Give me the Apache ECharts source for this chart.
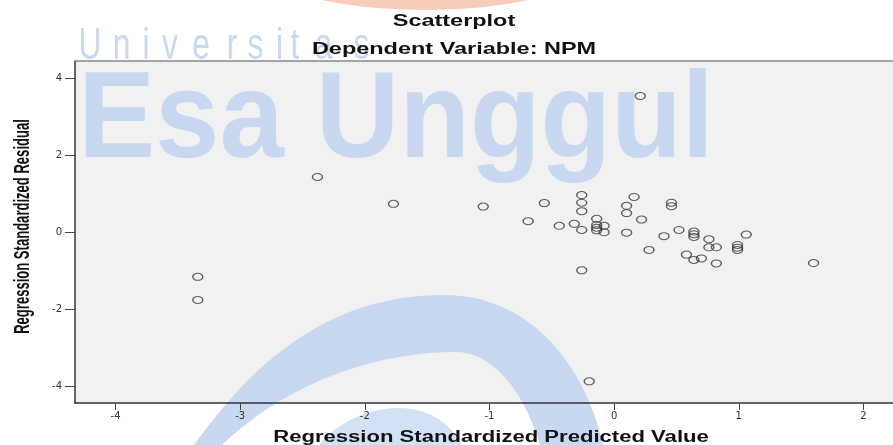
<!DOCTYPE html>
<html>
<head>
<meta charset="utf-8">
<script src="https://cdn.jsdelivr.net/npm/echarts@6/dist/echarts.min.js"></script>
<style>
html,body{margin:0;padding:0;background:#fff;}
#chart{width:893px;height:445px;}
</style>
</head>
<body>
<div id="chart"></div>
<script>
const predicted = [0.21,-2.38,-1.77,-1.05,-0.69,-0.56,-0.44,-0.32,-0.26,-0.26,-0.26,-0.26,-0.26,-0.14,-0.14,-0.14,-0.14,-0.08,-0.08,0.10,0.10,0.10,0.16,0.22,0.28,0.40,0.46,0.46,0.52,0.58,0.64,0.64,0.64,0.64,0.70,0.76,0.76,0.82,0.82,0.99,0.99,0.99,1.06,1.60,-3.34,-3.34,-0.20];
const residual  = [3.55,1.44,0.74,0.67,0.29,0.76,0.17,0.22,0.97,0.77,0.55,0.06,-0.99,0.35,0.19,0.12,0.05,0.17,0.00,0.69,0.50,-0.01,0.92,0.33,-0.46,-0.10,0.77,0.68,0.06,-0.58,0.02,-0.05,-0.12,-0.72,-0.68,-0.18,-0.39,-0.39,-0.81,-0.33,-0.40,-0.46,-0.06,-0.80,-1.16,-1.76,-3.88];
const xTickValues = [-4,-3,-2,-1,0,1,2];
const yTickValues = [-4,-2,0,2,4];
const titleText = 'Scatterplot';
const subtitleText = 'Dependent Variable: NPM';
const xName = 'Regression Standardized Predicted Value';
const yName = 'Regression Standardized Residual';

const points = predicted.map((x, i) => [x, residual[i]]);

// --- watermark decoration helpers ---
function bez(p0, p1, p2, p3, n) {
  const out = [];
  for (let i = 0; i <= n; i++) {
    const t = i / n, u = 1 - t;
    out.push([
      u*u*u*p0[0] + 3*u*u*t*p1[0] + 3*u*t*t*p2[0] + t*t*t*p3[0],
      u*u*u*p0[1] + 3*u*u*t*p1[1] + 3*u*t*t*p2[1] + t*t*t*p3[1]
    ]);
  }
  return out;
}
const crescent = [].concat(
  bez([194,445],[255,360],[330,295],[444,295],30),
  bez([444,295],[530,295],[585,365],[603,445],30),
  bez([540,445],[525,395],[495,352],[455,352],30),
  bez([455,352],[380,352],[290,380],[222,445],30)
);
const dome = [].concat(
  bez([319,445],[340,420],[370,408],[399,408],20),
  bez([399,408],[430,408],[452,425],[462,445],20)
);

const wmBlue = '#c8d8f0';
const uniLetters = 'Universitas'.split('');
const uniCenters = [90,121.5,146,170,201,232,255.5,279.5,295,323.5,361.5];

const graphics = [
  {type:'ellipse', z:1, silent:true, shape:{cx:425, cy:-60, rx:200, ry:70}, style:{fill:'#f9ccb9'}},
  {type:'polygon', z:1, silent:true, shape:{points:crescent}, style:{fill:wmBlue}},
  {type:'polygon', z:1, silent:true, shape:{points:dome}, style:{fill:'#d3e1f5'}},
  {type:'text', z:1, silent:true, x:78, y:123, scaleX:0.94,
   style:{text:'Esa Unggul', font:'bold 123px "Liberation Sans"', fill:wmBlue, align:'left', verticalAlign:'middle', textAlign:'left', textVerticalAlign:'middle'}}
];
uniLetters.forEach((ch, i) => {
  graphics.push({type:'text', z:1, silent:true, x:uniCenters[i], y:47, scaleX:0.72,
    style:{text:ch, font:'44px "Liberation Sans"', fill:wmBlue, align:'center', verticalAlign:'middle', textAlign:'center', textVerticalAlign:'middle'}});
});
graphics.push(
  {type:'text', z:4, x:454, y:21.5, scaleX:1.38,
   style:{text:titleText, font:'bold 17px "Liberation Sans"', fill:'#111', align:'center', verticalAlign:'middle', textAlign:'center', textVerticalAlign:'middle'}},
  {type:'text', z:4, x:454, y:49.5, scaleX:1.38,
   style:{text:subtitleText, font:'bold 17px "Liberation Sans"', fill:'#111', align:'center', verticalAlign:'middle', textAlign:'center', textVerticalAlign:'middle'}},
  {type:'text', z:4, x:491, y:437.5, scaleX:1.38,
   style:{text:xName, font:'bold 16px "Liberation Sans"', fill:'#111', align:'center', verticalAlign:'middle', textAlign:'center', textVerticalAlign:'middle'}},
  {type:'text', z:4, x:23, y:226.5, rotation:Math.PI/2, scaleX:0.87, scaleY:1.45,
   style:{text:yName, font:'bold 15px "Liberation Sans"', fill:'#111', align:'center', verticalAlign:'middle', textAlign:'center', textVerticalAlign:'middle'}}
);

const chart = echarts.init(document.getElementById('chart'), null, {renderer:'canvas'});
chart.setOption({
  animation:false,
  backgroundColor:'#ffffff',
  grid:{left:75, top:61, right:0, bottom:42, show:true, backgroundColor:'#f1f1f1', borderWidth:0},
  xAxis:[{
    type:'value', min:-4.325, max:2.237, z:3, position:'bottom',
    axisLine:{show:true, onZero:false, lineStyle:{color:'#333', width:1.5}},
    axisTick:{show:true, length:7, customValues:xTickValues, lineStyle:{color:'#444', width:1}},
    axisLabel:{show:true, margin:8, customValues:xTickValues, fontFamily:'DejaVu Sans', fontSize:10, color:'#333'},
    splitLine:{show:false}
  },{
    type:'value', min:-4.325, max:2.237, z:3, position:'top',
    axisLine:{show:true, onZero:false, lineStyle:{color:'#888', width:1.5}},
    axisTick:{show:false}, axisLabel:{show:false}, splitLine:{show:false}
  }],
  yAxis:{
    type:'value', min:-4.445, max:4.46, z:3,
    axisLine:{show:true, onZero:false, lineStyle:{color:'#333', width:1.5}},
    axisTick:{show:true, length:10, customValues:yTickValues, lineStyle:{color:'#444', width:1}},
    axisLabel:{show:true, margin:13, customValues:yTickValues, fontFamily:'DejaVu Sans', fontSize:10, color:'#333'},
    splitLine:{show:false}
  },
  graphic:graphics,
  series:[{
    type:'scatter', z:5, xAxisIndex:0,
    symbol:'circle', symbolSize:[10,7],
    itemStyle:{color:'rgba(0,0,0,0)', borderColor:'#3a3a3a', borderWidth:1.2},
    data:points
  }]
});
</script>
</body>
</html>
